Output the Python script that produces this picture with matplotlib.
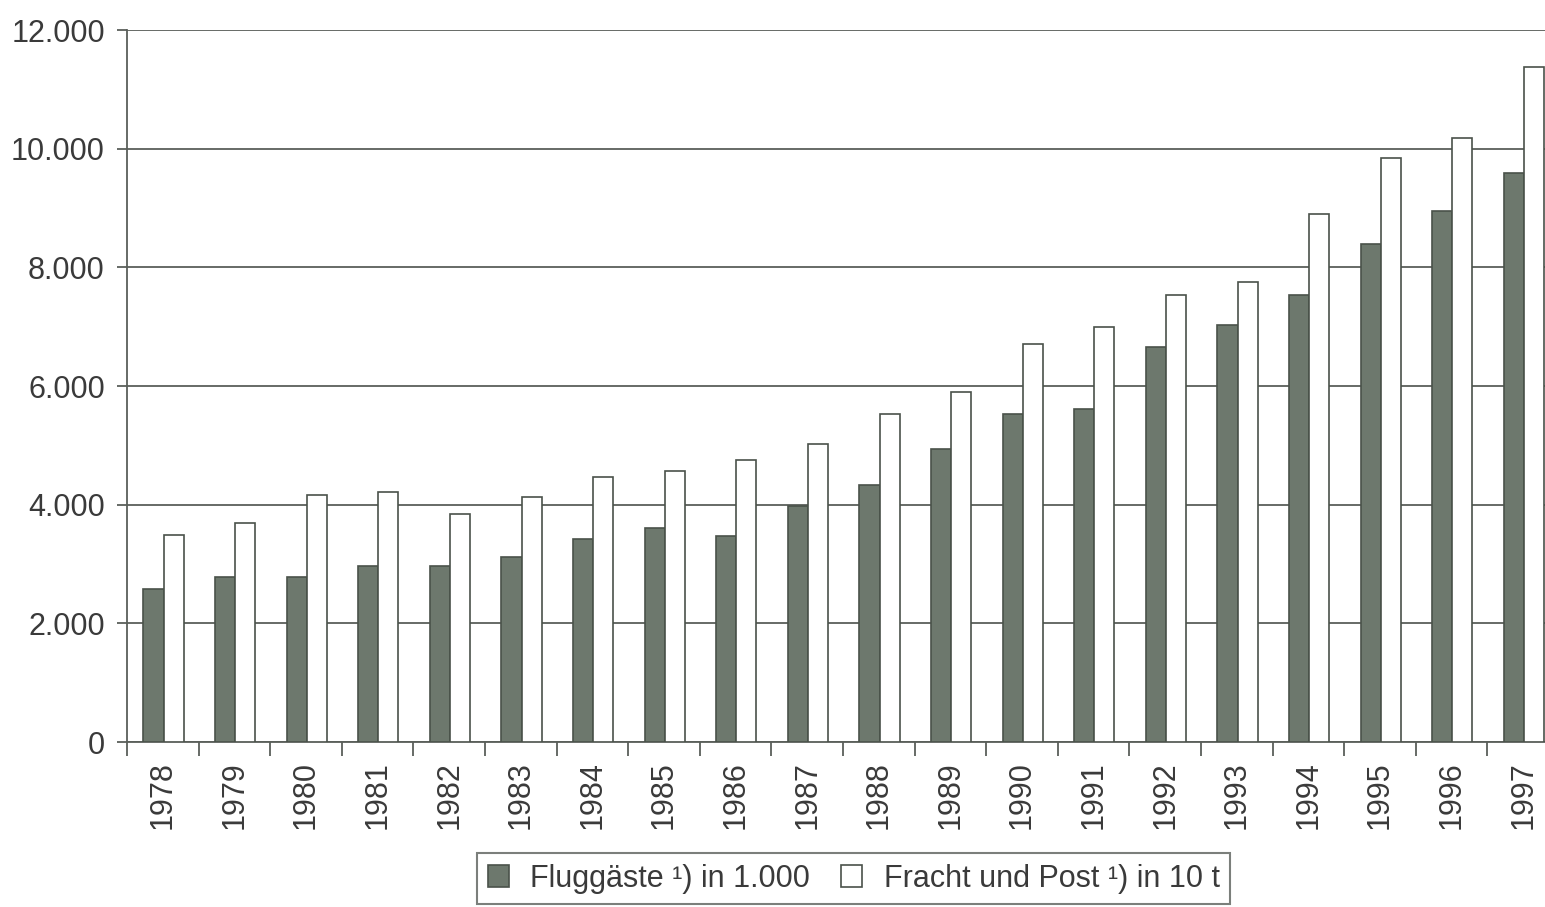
import matplotlib
matplotlib.use("Agg")
import numpy as np
from matplotlib import pyplot as plt
from matplotlib.ticker import FixedLocator, FuncFormatter

years = [str(y) for y in range(1978, 1998)]
fluggaeste = [2580, 2780, 2780, 2970, 2970, 3120, 3420, 3600, 3470, 3980,
              4330, 4940, 5530, 5610, 6650, 7030, 7530, 8400, 8950, 9590]
fracht_post = [3490, 3690, 4160, 4210, 3840, 4130, 4470, 4560, 4750, 5030,
               5530, 5900, 6710, 6990, 7530, 7760, 8900, 9850, 10180, 11380]

plt.rcParams['font.family'] = ['Liberation Sans', 'DejaVu Sans']
text_col = '#3a3a3a'
line_col = '#5a5f5a'
dark = '#6d786d'

fig = plt.figure(figsize=(15.45, 9.07), dpi=100)
ax = fig.add_axes([127/1545, 1 - 742/907, 1432/1545, 712/907])

x = np.arange(len(years))
w = 0.28
ax.bar(x - 0.13, fluggaeste, width=w, color=dark, edgecolor='#4a524a',
       linewidth=1.2, label='Fluggäste ¹) in 1.000', zorder=3)
ax.bar(x - 0.13 + w, fracht_post, width=w, color='white', edgecolor='#4a524a',
       linewidth=1.2, label='Fracht und Post ¹) in 10 t', zorder=3)

ax.set_xlim(-0.5, len(years) - 0.5)
ax.set_ylim(0, 12000)
ax.set_yticks(range(0, 12001, 2000))
ax.yaxis.set_major_formatter(FuncFormatter(lambda v, p: f"{int(v):,}".replace(",", ".")))
ax.set_xticks(x)
ax.set_xticklabels(years, rotation=90)
ax.xaxis.set_minor_locator(FixedLocator(np.arange(-0.5, len(years), 1.0)))

ax.grid(axis='y', color=line_col, linewidth=1.3, zorder=0)
ax.set_axisbelow(True)
for s in ['top', 'right']:
    ax.spines[s].set_visible(False)
for s in ['left', 'bottom']:
    ax.spines[s].set_color(line_col)
    ax.spines[s].set_linewidth(1.3)

ax.tick_params(axis='y', direction='out', length=7, width=1.3, color=line_col,
               labelsize=22, labelcolor=text_col, pad=9)
ax.tick_params(axis='x', which='major', length=0, labelsize=22,
               labelcolor=text_col, pad=14)
ax.tick_params(axis='x', which='minor', direction='out', length=10, width=1.3,
               color=line_col)

leg = fig.legend(loc='upper left', bbox_to_anchor=(477/1545, 1 - 853/907),
                 borderaxespad=0, ncol=2, frameon=True, fancybox=False,
                 fontsize=22, handlelength=0.7, handleheight=0.7,
                 handletextpad=0.7, columnspacing=1.0, borderpad=0.35,
                 edgecolor=line_col)
leg.get_frame().set_linewidth(1.5)
for t in leg.get_texts():
    t.set_color(text_col)

plt.savefig("out.png", dpi=100)
